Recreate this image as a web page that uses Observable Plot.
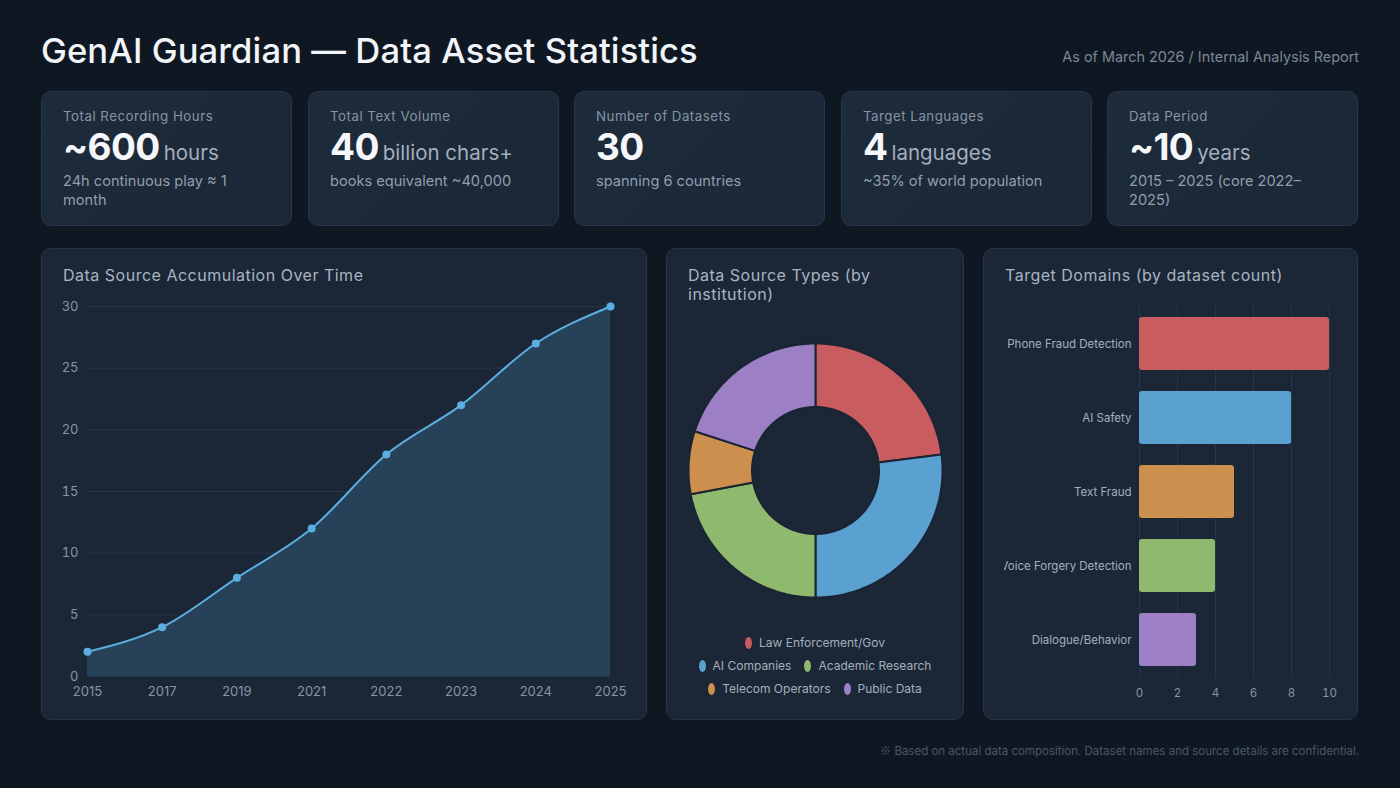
<!DOCTYPE html>
<html>
<head>
<meta charset="utf-8">
<script src="https://cdn.jsdelivr.net/npm/d3@7"></script>
<script src="https://cdn.jsdelivr.net/npm/@observablehq/plot@0.6"></script>
<style>
  html, body { margin:0; padding:0; background:#0f1822; }
  body { width:1400px; height:788px; position:relative; overflow:hidden; font-family: Inter, "Noto Sans", sans-serif; }
  .abs { position:absolute; }
  #title { left:41px; top:28px; font-size:34.6px; font-weight:500; color:#f1f4f8; line-height:44px; white-space:nowrap; letter-spacing:0.1px; }
  #subtitle { right:41px; top:47px; font-size:14.4px; color:#7a8898; line-height:20px; white-space:nowrap; }
  .card { position:absolute; top:91px; width:251px; height:135px; box-sizing:border-box; border-radius:10px;
          background:linear-gradient(135deg,#1d2b3b 0%,#1a2736 100%); border:1px solid #27364a; }
  .card .lbl { position:absolute; left:21px; top:15px; font-size:13.3px; line-height:18px; color:#8794a4; letter-spacing:0.5px; white-space:nowrap; }
  .card .big { position:absolute; left:21px; top:33px; line-height:44px; white-space:nowrap; }
  .card .num { font-size:37px; font-weight:700; color:#f5f7fa; letter-spacing:-0.6px; }
  .card .unit { font-size:20.5px; color:#a3afbd; margin-left:4px; }
  .card .sub { position:absolute; left:21px; top:80px; width:210px; font-size:14.6px; line-height:19px; color:#919eae; }
  .panel { position:absolute; top:248px; height:472px; box-sizing:border-box; border-radius:10px;
           background:#1b2736; border:1px solid #26354a; }
  .ptitle { position:absolute; left:21px; top:17px; font-size:16px; line-height:19px; font-weight:400; color:#a8b4c2; letter-spacing:0.5px; }
  .chart { position:absolute; overflow:hidden; }
  .chart svg { max-width:none; }
  #legend { left:666px; width:298px; top:631px; }
  .lrow { display:flex; justify-content:center; gap:13px; height:23px; align-items:center; }
  .litem { display:flex; align-items:center; gap:7px; font-size:12px; color:#a3afbd; white-space:nowrap; }
  .sw { width:7px; height:12px; border-radius:50%; display:inline-block; }
  #footer { right:41px; top:742px; font-size:11.5px; line-height:16px; color:#4a5767; white-space:nowrap; }
  #footer .mark { font-family: "Noto Sans CJK JP", "DejaVu Sans", sans-serif; }
</style>
</head>
<body>
<script>
// ---------- data ----------
const kpiLabels = ["Total Recording Hours", "Total Text Volume", "Number of Datasets", "Target Languages", "Data Period"];
const kpiValues = ["~600", "40", "30", "4", "~10"];
const kpiUnits  = ["hours", "billion chars+", "", "languages", "years"];
const kpiNotes  = ["24h continuous play ≈ 1 month", "books equivalent ~40,000", "spanning 6 countries", "~35% of world population", "2015 – 2025 (core 2022–2025)"];

const years = ["2015", "2017", "2019", "2021", "2022", "2023", "2024", "2025"];
const cumulativeSources = [2, 4, 8, 12, 18, 22, 27, 30];

const sourceTypes = ["Law Enforcement/Gov", "AI Companies", "Academic Research", "Telecom Operators", "Public Data"];
const sourceShares = [23, 27, 22, 8, 20];
const sourceColors = ["#c95c5e", "#5aa0d0", "#8fba6e", "#cc8f4e", "#9d7fc6"];

const targetDomains = ["Phone Fraud Detection", "AI Safety", "Text Fraud", "Voice Forgery Detection", "Dialogue/Behavior"];
const domainCounts = [10, 8, 5, 4, 3];
const domainColors = ["#c95c5e", "#5aa0d0", "#cc8f4e", "#8fba6e", "#9d7fc6"];

// ---------- header ----------
function el(tag, cls, parent, text) {
  const e = document.createElement(tag);
  if (cls) e.className = cls;
  if (text != null) e.textContent = text;
  (parent || document.body).appendChild(e);
  return e;
}
const t = el("div", "abs", null, "GenAI Guardian — Data Asset Statistics"); t.id = "title";
const s = el("div", "abs", null, "As of March 2026 / Internal Analysis Report"); s.id = "subtitle";

const cardLefts = [41, 308, 574, 841, 1107];
kpiLabels.forEach((lab, i) => {
  const c = el("div", "card");
  c.style.left = cardLefts[i] + "px";
  el("div", "lbl", c, lab);
  const b = el("div", "big", c);
  el("span", "num", b, kpiValues[i]);
  if (kpiUnits[i]) el("span", "unit", b, kpiUnits[i]);
  el("div", "sub", c, kpiNotes[i]);
});

// ---------- panels ----------
const panels = [
  {left:41, width:606, title:"Data Source Accumulation Over Time"},
  {left:666, width:298, title:"Data Source Types (by institution)"},
  {left:983, width:375, title:"Target Domains (by dataset count)"}
];
panels.forEach(p => {
  const d = el("div", "panel");
  d.style.left = p.left + "px"; d.style.width = p.width + "px";
  const tt = el("div", "ptitle", d, p.title);
  tt.style.width = (p.width - 42) + "px";
});

function place(node, left, top, w, h) {
  const wrap = el("div", "chart");
  wrap.style.left = left + "px"; wrap.style.top = top + "px";
  wrap.style.width = w + "px"; wrap.style.height = h + "px";
  wrap.appendChild(node);
}

// ---------- line / area chart ----------
const lineData = years.map((y, i) => ({year: y, value: cumulativeSources[i]}));
const lineChart = Plot.plot({
  width: 580, height: 420,
  marginLeft: 31, marginRight: 26, marginTop: 16, marginBottom: 34,
  style: {background: "transparent", color: "#8794a4", fontSize: "13px", fontFamily: "Inter, sans-serif"},
  x: {type: "point", domain: years, padding: 0, round: false, label: null},
  y: {domain: [0, 30], label: null},
  marks: [
    Plot.gridY([0, 5, 10, 15, 20, 25, 30], {stroke: "#28374a", strokeOpacity: 1}),
    Plot.areaY(lineData, {x: "year", y: "value", curve: "monotone-x", fill: "#28425b", fillOpacity: 0.95}),
    Plot.lineY(lineData, {x: "year", y: "value", curve: "monotone-x", stroke: "#5aaee0", strokeWidth: 2}),
    Plot.dot(lineData, {x: "year", y: "value", r: 4, fill: "#5aaee0"}),
    Plot.axisY({ticks: [0, 5, 10, 15, 20, 25, 30], tickSize: 0, tickPadding: 9, label: null}),
    Plot.axisX({tickSize: 0, tickPadding: 10, label: null})
  ]
});
place(lineChart, 56, 290, 580, 420);

// ---------- donut ----------
const R = 1, r0 = 0.5;
const arcs = d3.pie().sort(null).value(d => d)(sourceShares);
const ring = [];
arcs.forEach((a, i) => {
  const n = Math.max(4, Math.ceil((a.endAngle - a.startAngle) / 0.01));
  const pts = [];
  for (let k = 0; k <= n; k++) {
    const th = a.startAngle + (a.endAngle - a.startAngle) * k / n;
    pts.push({x: R * Math.sin(th), y: R * Math.cos(th)});
  }
  for (let k = n; k >= 0; k--) {
    const th = a.startAngle + (a.endAngle - a.startAngle) * k / n;
    pts.push({x: r0 * Math.sin(th), y: r0 * Math.cos(th)});
  }
  pts.push(pts[0]);
  pts.forEach(p => ring.push({...p, type: sourceTypes[i]}));
});
const dW = 278, dH = 280, pxPerUnit = 127;
const donut = Plot.plot({
  width: dW, height: dH, margin: 0,
  style: {background: "transparent"},
  x: {domain: [-(dW / 2) / pxPerUnit, (dW / 2) / pxPerUnit], axis: null},
  y: {domain: [-(dH / 2) / pxPerUnit, (dH / 2) / pxPerUnit], axis: null},
  color: {domain: sourceTypes, range: sourceColors},
  marks: [
    Plot.line(ring, {x: "x", y: "y", z: "type", fill: "type", stroke: "#1a2433", strokeWidth: 2, strokeLinejoin: "miter", curve: "linear"})
  ]
});
place(donut, 676, 330, dW, dH);

// legend
const leg = el("div", "abs"); leg.id = "legend";
const legendRows = [[0], [1, 2], [3, 4]];
legendRows.forEach(row => {
  const rd = el("div", "lrow", leg);
  row.forEach(i => {
    const it = el("div", "litem", rd);
    const sw = el("span", "sw", it); sw.style.background = sourceColors[i];
    el("span", null, it, sourceTypes[i]);
  });
});

// ---------- bar chart ----------
const barData = targetDomains.map((d, i) => ({domain: d, count: domainCounts[i]}));
const barChart = Plot.plot({
  width: 345, height: 410,
  marginLeft: 135, marginRight: 20, marginTop: 5, marginBottom: 32,
  style: {background: "transparent", color: "#8794a4", fontSize: "11.5px", fontFamily: "Inter, sans-serif"},
  x: {domain: [0, 10], label: null},
  y: {domain: targetDomains, paddingInner: 0.28, paddingOuter: 0.14, label: null},
  color: {domain: targetDomains, range: domainColors},
  marks: [
    Plot.gridX([0, 2, 4, 6, 8, 10], {stroke: "#26354a", strokeOpacity: 1}),
    Plot.barX(barData, {x: "count", y: "domain", fill: "domain", rx: 3}),
    Plot.axisX({ticks: [0, 2, 4, 6, 8, 10], tickSize: 0, tickPadding: 10, label: null}),
    Plot.axisY({tickSize: 0, tickPadding: 8, label: null, fill: "#a3afbd"})
  ]
});
place(barChart, 1004, 300, 345, 410);

// ---------- footer ----------
const f = el("div", "abs"); f.id = "footer";
el("span", "mark", f, "※");
el("span", null, f, " Based on actual data composition. Dataset names and source details are confidential.");
</script>
</body>
</html>
